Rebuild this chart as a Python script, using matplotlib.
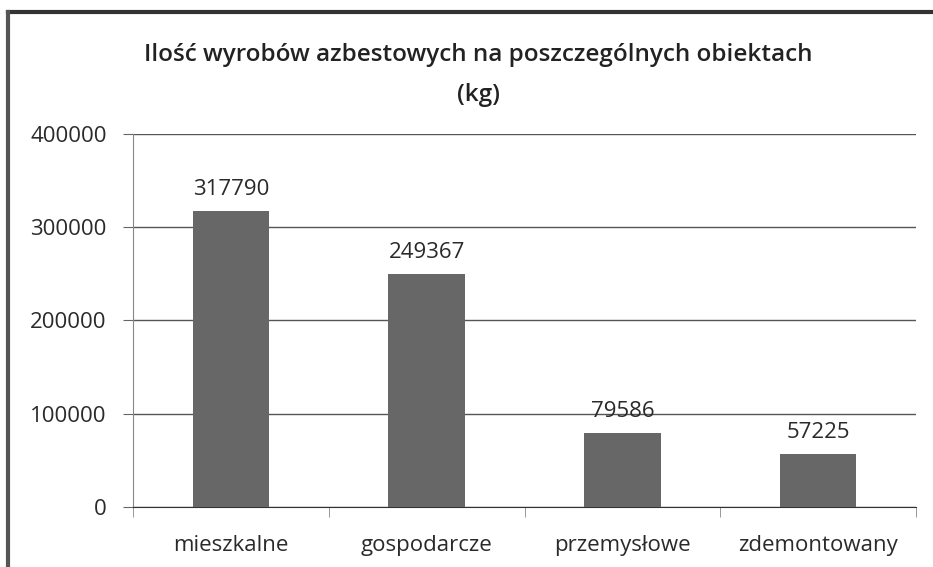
import matplotlib.pyplot as plt
from matplotlib.lines import Line2D

plt.rcParams['font.family'] = ['Open Sans', 'DejaVu Sans']

categories = ['mieszkalne', 'gospodarcze', 'przemysłowe', 'zdemontowany']
values = [317790, 249367, 79586, 57225]
yticks = [0, 100000, 200000, 300000, 400000]

fig = plt.figure(figsize=(9.33, 5.67), dpi=100)
ax = fig.add_axes([0.1426, 0.1058, 0.8392, 0.6579])

x = range(len(categories))
bars = ax.bar(x, values, width=0.39, color='#676767', zorder=3)
for xi, v in zip(x, values):
    ax.annotate(str(v), (xi, v), xytext=(0, 8), textcoords='offset points',
                ha='center', va='bottom', fontsize=16, color='#2a2a2a')

ax.set_xlim(-0.5, len(categories) - 0.5)
ax.set_ylim(0, 400000)
ax.set_yticks(yticks)
ax.set_yticklabels([str(t) for t in yticks], fontsize=16, color='#2a2a2a')
ax.set_xticks(list(x))
ax.set_xticklabels(categories, fontsize=16, color='#2a2a2a')
ax.tick_params(axis='x', length=0, pad=20)
ax.set_xticks([i - 0.5 for i in range(len(categories) + 1)], minor=True)
ax.tick_params(axis='x', which='minor', length=7, color='#888888')
ax.tick_params(axis='y', length=7, color='#666666', pad=12)
ax.grid(axis='y', color='#555555', linewidth=1.0, zorder=0)

for s in ['top', 'right']:
    ax.spines[s].set_visible(False)
ax.spines['left'].set_color('#888888')
ax.spines['bottom'].set_color('#333333')

fig.text(0.513, 0.903, 'Ilość wyrobów azbestowych na poszczególnych obiektach',
         ha='center', va='center', fontsize=17.5, color='#222222', fontweight='semibold')
fig.text(0.513, 0.833, '(kg)', ha='center', va='center', fontsize=17.5,
         color='#222222', fontweight='semibold')

# scan border of the original chart frame
fig.add_artist(Line2D([0.009, 1.0], [0.979, 0.979], color='#333333', linewidth=3))
fig.add_artist(Line2D([0.009, 0.009], [0.0, 0.979], color='#555555', linewidth=3))

fig.savefig('out.png', dpi=100)
